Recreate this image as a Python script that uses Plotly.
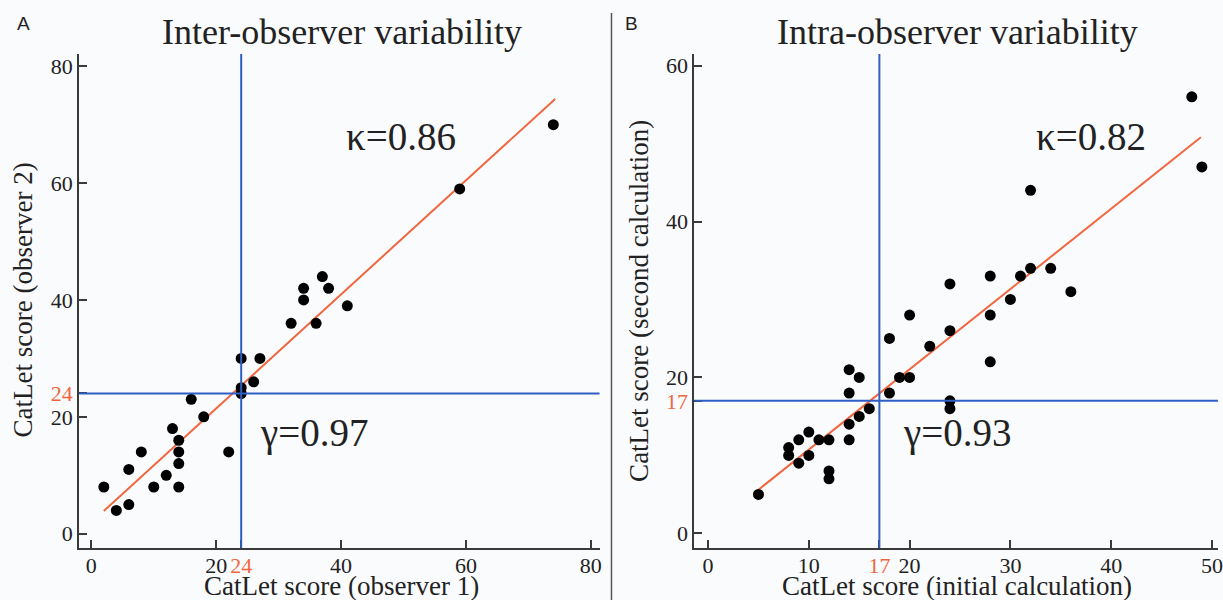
import plotly.graph_objects as go

W, H = 1223, 600

# ---------------- data ----------------
# Panel A: inter-observer
obs1 = [2, 4, 6, 6, 8, 10, 12, 13, 14, 14, 14, 14, 16, 18, 22, 24, 24, 24, 26, 27,
        32, 34, 34, 36, 37, 38, 41, 59, 74]
obs2 = [8, 4, 5, 11, 14, 8, 10, 18, 16, 14, 12, 8, 23, 20, 14, 30, 25, 24, 26, 30,
        36, 40, 42, 36, 44, 42, 39, 59, 70]
fitA_x = [2, 74.3]
fitA_y = [3.9, 74.4]
cutA = 24

# Panel B: intra-observer
init_calc = [5, 8, 8, 9, 9, 10, 10, 11, 12, 12, 12, 14, 14, 14, 14, 15, 15, 16, 18, 18,
             19, 20, 20, 22, 24, 24, 24, 24, 28, 28, 28, 30, 31, 32, 32, 34, 36, 48, 49]
second_calc = [5, 11, 10, 12, 9, 13, 10, 12, 12, 8, 7, 21, 18, 14, 12, 20, 15, 16, 25, 18,
               20, 20, 28, 24, 26, 17, 16, 32, 22, 28, 33, 30, 33, 34, 44, 34, 31, 56, 47]
fitB_x = [5, 48.9]
fitB_y = [5.6, 50.8]
cutB = 17

ticksA = [0, 20, 40, 60, 80]
ticksB_x = [0, 10, 20, 30, 40, 50]
ticksB_y = [0, 20, 40, 60]

BLUE = "#2f5fc4"
ORANGE = "#f0673f"
INK = "#222222"
AXIS = "#3a3a3a"
BG = "#fafbfd"
SERIF = "Liberation Serif, DejaVu Serif, serif"
TICK_SIZE = 22


def px(x):
    return x / W


def py(y):
    return 1 - y / H


fig = go.Figure()

# Panel A traces
fig.add_trace(go.Scatter(x=fitA_x, y=fitA_y, mode="lines",
                         line=dict(color=ORANGE, width=2), xaxis="x", yaxis="y",
                         showlegend=False, hoverinfo="skip"))
fig.add_trace(go.Scatter(x=obs1, y=obs2, mode="markers",
                         marker=dict(color="black", size=11), xaxis="x", yaxis="y",
                         showlegend=False))
# Panel B traces
fig.add_trace(go.Scatter(x=fitB_x, y=fitB_y, mode="lines",
                         line=dict(color=ORANGE, width=2), xaxis="x2", yaxis="y2",
                         showlegend=False, hoverinfo="skip"))
fig.add_trace(go.Scatter(x=init_calc, y=second_calc, mode="markers",
                         marker=dict(color="black", size=11), xaxis="x2", yaxis="y2",
                         showlegend=False))


def tick_labels(vals, cut):
    txt = [str(v) for v in vals]
    allv = vals + [cut]
    allt = txt + [f"<span style='color:{ORANGE};font-size:{TICK_SIZE}px'>{cut}</span>"]
    return allv, allt


common_axis = dict(showgrid=False, zeroline=False, showline=True, linecolor=AXIS,
                   linewidth=2, ticks="inside", tickcolor=AXIS, tickwidth=1.5,
                   ticklen=8, ticklabeloverflow="allow",
                   tickfont=dict(family=SERIF, size=TICK_SIZE, color=INK))

yd = [py(547.7), py(53)]

ax_vals, ax_text = tick_labels(ticksA, cutA)
bx_vals, bx_text = tick_labels(ticksB_x, cutB)
by_vals, by_text = tick_labels(ticksB_y, cutB)

fig.update_layout(
    width=W, height=H, margin=dict(l=0, r=0, t=0, b=0),
    paper_bgcolor=BG, plot_bgcolor=BG, showlegend=False,
    xaxis=dict(domain=[px(79.5), px(602)], range=[-1.95, 81.4], anchor="y",
               tickvals=ax_vals, ticktext=ax_text, ticklabelstandoff=-3, **common_axis),
    yaxis=dict(domain=yd, range=[-2.4, 82.1], anchor="x",
               tickvals=ax_vals, ticktext=ax_text, **common_axis),
    xaxis2=dict(domain=[px(697.3), 1.0], range=[-1.35, 50.6], anchor="y2",
                tickvals=bx_vals, ticktext=bx_text, ticklabelstandoff=-3, **common_axis),
    yaxis2=dict(domain=yd, range=[-1.85, 61.5], anchor="x2",
                tickvals=by_vals, ticktext=by_text, **common_axis),
)

# cut-off reference lines
shapes = [
    dict(type="line", xref="x", yref="y domain", x0=cutA, x1=cutA, y0=0, y1=1,
         line=dict(color=BLUE, width=2)),
    dict(type="line", xref="x domain", yref="y", x0=0, x1=1, y0=cutA, y1=cutA,
         line=dict(color=BLUE, width=2)),
    dict(type="line", xref="x2", yref="y2 domain", x0=cutB, x1=cutB, y0=0, y1=1,
         line=dict(color=BLUE, width=2)),
    dict(type="line", xref="x2 domain", yref="y2", x0=0, x1=1, y0=cutB, y1=cutB,
         line=dict(color=BLUE, width=2)),
    # panel separator
    dict(type="line", xref="paper", yref="paper", x0=px(614), x1=px(614), y0=0, y1=py(12),
         line=dict(color="#555555", width=1.5)),
]
fig.update_layout(shapes=shapes)

ann = []


def add_text(text, x, y, size, xref="paper", yref="paper", angle=0, family=SERIF,
             xanchor="center", yanchor="middle", color=INK):
    ann.append(dict(text=text, x=x, y=y, xref=xref, yref=yref, showarrow=False,
                    textangle=angle, xanchor=xanchor, yanchor=yanchor,
                    font=dict(family=family, size=size, color=color)))


add_text("A", px(15), py(23), 19, family="Liberation Sans", xanchor="left")
add_text("B", px(626), py(23), 19, family="Liberation Sans", xanchor="left")
add_text("Inter-observer variability", px(343), py(31), 36)
add_text("Intra-observer variability", px(961), py(31), 36)
add_text("CatLet score (observer 1)", px(343), py(586), 27)
add_text("CatLet score (initial calculation)", px(961), py(586), 27)
add_text("CatLet score (observer 2)", px(23), py(299), 27, angle=-90)
add_text("CatLet score (second calculation)", px(641), py(300), 27, angle=-90)
add_text("κ=0.86", 49.6, 68.0, 39, xref="x", yref="y")
add_text("γ=0.97", 35.6, 17.2, 39, xref="x", yref="y")
add_text("κ=0.82", 38.0, 50.9, 39, xref="x2", yref="y2")
add_text("γ=0.93", 24.7, 12.9, 39, xref="x2", yref="y2")
fig.update_layout(annotations=ann)

fig.write_html("out.html", config={"displayModeBar": False},
               post_script="document.body.style.margin='0';document.body.style.overflow='hidden';")
